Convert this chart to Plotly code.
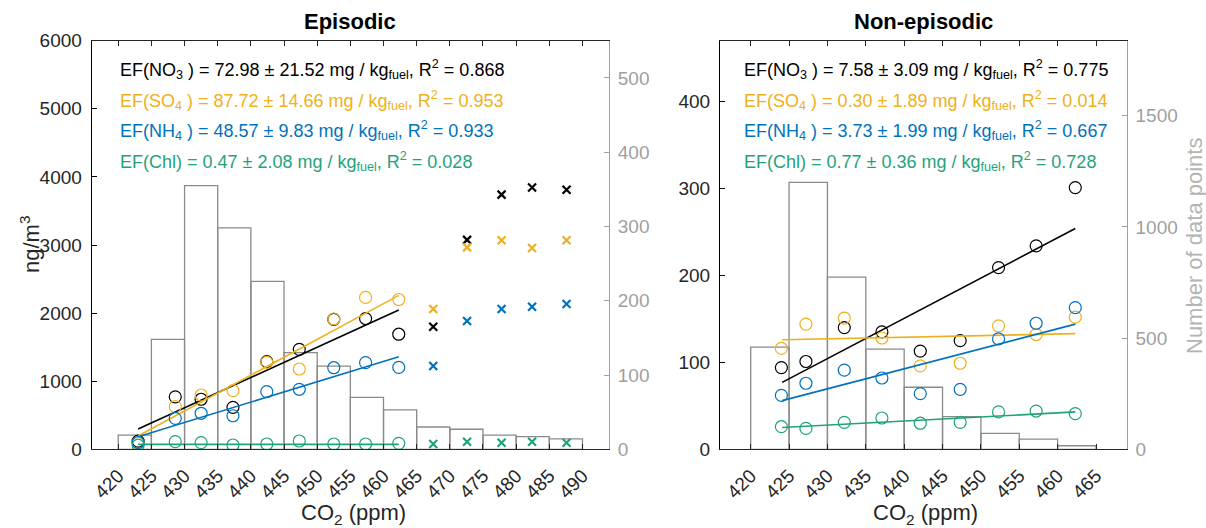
import plotly.graph_objects as go

# ---------------- data ----------------
# Episodic panel
bins_ep = [422.5, 427.5, 432.5, 437.5, 442.5, 447.5, 452.5, 457.5, 462.5,
           467.5, 472.5, 477.5, 482.5, 487.5]
counts_ep = [19, 148, 355, 298, 226, 130, 112, 70, 53, 30, 27, 19, 17, 14]

x_ep = [423.0, 428.6, 432.5, 437.3, 442.4, 447.3, 452.5, 457.3, 462.3]
no3_ep = [120, 770, 735, 616, 1287, 1468, 1909, 1920, 1690]
so4_ep = [90, 626, 797, 861, 1277, 1179, 1913, 2230, 2200]
nh4_ep = [100, 455, 529, 493, 846, 881, 1198, 1272, 1204]
chl_ep = [60, 112, 97, 63, 78, 122, 78, 78, 88]

x_ep_x = [467.5, 472.6, 477.8, 482.4, 487.6]
no3_ep_x = [1800, 3075, 3740, 3845, 3810]
so4_ep_x = [2060, 2965, 3070, 2955, 3070]
nh4_ep_x = [1223, 1884, 2060, 2094, 2134]
chl_ep_x = [78, 112, 97, 112, 97]

fitx_ep = [423.0, 462.3]
no3_fit_ep = [298, 2046]
so4_fit_ep = [195, 2260]
nh4_fit_ep = [185, 1360]
chl_fit_ep = [73, 73]

# Non-episodic panel
bins_ne = [422.5, 427.5, 432.5, 437.5, 442.5, 447.5, 452.5, 457.5, 462.5]
counts_ne = [459, 1200, 774, 450, 279, 147, 72, 46, 16]

x_ne = [424.0, 427.2, 432.2, 437.1, 442.1, 447.3, 452.3, 457.2, 462.3]
no3_ne = [94, 101, 140, 135, 113, 125, 209, 234, 301]
so4_ne = [116, 144, 151, 128, 96, 99, 142, 132, 152]
nh4_ne = [62, 76, 91, 82, 64, 69, 127, 145, 163]
chl_ne = [26, 24, 31, 36, 30, 31, 43, 44, 41]

fitx_ne = [424.1, 462.3]
no3_fit_ne = [77, 254]
so4_fit_ne = [126, 133]
nh4_fit_ne = [56, 144]
chl_fit_ne = [25, 43]

ticks_ep = list(range(420, 491, 5))
ticks_ne = list(range(420, 466, 5))

labels_ep = [
    "EF(NO<sub>3</sub> ) = 72.98 ± 21.52 mg / kg<sub>fuel</sub>, R<sup>2</sup> = 0.868",
    "EF(SO<sub>4</sub> ) = 87.72 ± 14.66 mg / kg<sub>fuel</sub>, R<sup>2</sup> = 0.953",
    "EF(NH<sub>4</sub> ) = 48.57 ± 9.83 mg / kg<sub>fuel</sub>, R<sup>2</sup> = 0.933",
    "EF(Chl) = 0.47 ± 2.08 mg / kg<sub>fuel</sub>, R<sup>2</sup> = 0.028",
]
labels_ne = [
    "EF(NO<sub>3</sub> ) = 7.58 ± 3.09 mg / kg<sub>fuel</sub>, R<sup>2</sup> = 0.775",
    "EF(SO<sub>4</sub> ) = 0.30 ± 1.89 mg / kg<sub>fuel</sub>, R<sup>2</sup> = 0.014",
    "EF(NH<sub>4</sub> ) = 3.73 ± 1.99 mg / kg<sub>fuel</sub>, R<sup>2</sup> = 0.667",
    "EF(Chl) = 0.77 ± 0.36 mg / kg<sub>fuel</sub>, R<sup>2</sup> = 0.728",
]

colors = ["#000000", "#EDB120", "#0072BD", "#1FA37A"]
FONT = "Liberation Sans, Arial, sans-serif"
GREY = "#a0a0a0"
DARK = "#262626"

W, H = 1206, 528
def px_x(p):
    return p / W
def px_y(p):
    return 1 - p / H

fig = go.Figure()

# histograms (base axes, right side)
fig.add_trace(go.Bar(x=bins_ep, y=counts_ep, width=5, xaxis="x", yaxis="y",
                     marker=dict(color="rgba(255,255,255,0)",
                                 line=dict(color="#8a8a8a", width=1.3)),
                     showlegend=False))
fig.add_trace(go.Bar(x=bins_ne, y=counts_ne, width=5, xaxis="x2", yaxis="y3",
                     marker=dict(color="rgba(255,255,255,0)",
                                 line=dict(color="#8a8a8a", width=1.3)),
                     showlegend=False))

def add_panel(xpts, series, fitx, fits, xa, ya, xcross=None, crosses=None):
    for i, (ys, fy) in enumerate(zip(series, fits)):
        fig.add_trace(go.Scatter(x=fitx, y=fy, mode="lines", xaxis=xa, yaxis=ya,
                                 line=dict(color=colors[i], width=1.6),
                                 showlegend=False))
        fig.add_trace(go.Scatter(x=xpts, y=ys, mode="markers", xaxis=xa, yaxis=ya,
                                 marker=dict(symbol="circle-open", size=12,
                                             color=colors[i], line=dict(width=1.2)),
                                 showlegend=False))
    if crosses is not None:
        for i, ys in enumerate(crosses):
            fig.add_trace(go.Scatter(x=xcross, y=ys, mode="markers", xaxis=xa, yaxis=ya,
                                     marker=dict(symbol="x-thin", size=8,
                                                 color=colors[i],
                                                 line=dict(width=2.2, color=colors[i])),
                                     showlegend=False))

add_panel(x_ep, [no3_ep, so4_ep, nh4_ep, chl_ep], fitx_ep,
          [no3_fit_ep, so4_fit_ep, nh4_fit_ep, chl_fit_ep], "x", "y2",
          x_ep_x, [no3_ep_x, so4_ep_x, nh4_ep_x, chl_ep_x])
add_panel(x_ne, [no3_ne, so4_ne, nh4_ne, chl_ne], fitx_ne,
          [no3_fit_ne, so4_fit_ne, nh4_fit_ne, chl_fit_ne], "x2", "y4")

ydom = [px_y(449.3), px_y(40.7)]
tickfont = dict(family=FONT, size=19, color=DARK)

xcommon = dict(showline=True, linecolor=DARK, linewidth=1, mirror="ticks",
               ticks="inside", ticklen=5, tickcolor=DARK, tickwidth=1,
               tickangle=-45, tickfont=tickfont, showgrid=False, zeroline=False,
               automargin=False, ticklabelstandoff=7)
ycount = dict(side="right", showline=True, linecolor=GREY, linewidth=1,
              ticks="inside", ticklen=5, tickcolor=GREY,
              tickfont=dict(family=FONT, size=19, color=GREY),
              showgrid=False, zeroline=False, automargin=False, ticklabelstandoff=4)
yconc = dict(side="left", showline=True, linecolor="#000000", linewidth=1,
             ticks="inside", ticklen=5, tickcolor="#000000",
             tickfont=tickfont, showgrid=False, zeroline=False, automargin=False,
             ticklabelstandoff=5)

fig.update_layout(
    width=W, height=H,
    margin=dict(l=0, r=0, t=0, b=0),
    paper_bgcolor="white", plot_bgcolor="rgba(0,0,0,0)",
    barmode="overlay",
    showlegend=False,
    xaxis=dict(domain=[px_x(91.7), px_x(609)], anchor="y", range=[416, 494],
               tickvals=ticks_ep, **xcommon),
    yaxis=dict(domain=ydom, anchor="x", range=[0, 550],
               tickvals=[0, 100, 200, 300, 400, 500], **ycount),
    yaxis2=dict(overlaying="y", anchor="x", range=[0, 6000],
                tickvals=[0, 1000, 2000, 3000, 4000, 5000, 6000], **yconc),
    xaxis2=dict(domain=[px_x(720), px_x(1126.7)], anchor="y3", range=[416, 469],
                tickvals=ticks_ne, **xcommon),
    yaxis3=dict(domain=ydom, anchor="x2", range=[0, 1837],
                tickvals=[0, 500, 1000, 1500], **ycount),
    yaxis4=dict(overlaying="y3", anchor="x2", range=[0, 470],
                tickvals=[0, 100, 200, 300, 400], **yconc),
)

ann = []
# equation texts
line_y = [69.3, 100.0, 130.7, 161.7]
for i in range(4):
    ann.append(dict(x=px_x(118.3), y=px_y(line_y[i]), xref="paper", yref="paper",
                    text=labels_ep[i], showarrow=False, xanchor="left", yanchor="middle",
                    font=dict(family=FONT, size=18, color=colors[i])))
    ann.append(dict(x=px_x(741.5), y=px_y(line_y[i]), xref="paper", yref="paper",
                    text=labels_ne[i], showarrow=False, xanchor="left", yanchor="middle",
                    font=dict(family=FONT, size=18, color=colors[i])))
# titles
ann.append(dict(x=px_x(350), y=px_y(22), xref="paper", yref="paper", text="<b>Episodic</b>",
                showarrow=False, xanchor="center", yanchor="middle",
                font=dict(family=FONT, size=22, color="#000000")))
ann.append(dict(x=px_x(923), y=px_y(22), xref="paper", yref="paper", text="<b>Non-episodic</b>",
                showarrow=False, xanchor="center", yanchor="middle",
                font=dict(family=FONT, size=22, color="#000000")))
# axis titles
for cx in (353, 925):
    ann.append(dict(x=px_x(cx), y=px_y(514), xref="paper", yref="paper",
                    text="CO<sub>2</sub> (ppm)", showarrow=False,
                    xanchor="center", yanchor="middle",
                    font=dict(family=FONT, size=22, color=DARK)))
ann.append(dict(x=px_x(30), y=px_y(245), xref="paper", yref="paper",
                text="ng/m<sup>3</sup>", showarrow=False, textangle=-90,
                xanchor="center", yanchor="middle",
                font=dict(family=FONT, size=22, color=DARK)))
ann.append(dict(x=px_x(1195), y=px_y(246), xref="paper", yref="paper",
                text="Number of data points", showarrow=False, textangle=-90,
                xanchor="center", yanchor="middle",
                font=dict(family=FONT, size=22, color="#b4b4b4")))
fig.update_layout(annotations=ann)

fig.write_html("out.html", config={"displayModeBar": False},
               post_script="document.body.style.margin='0';document.body.style.overflow='hidden';")
